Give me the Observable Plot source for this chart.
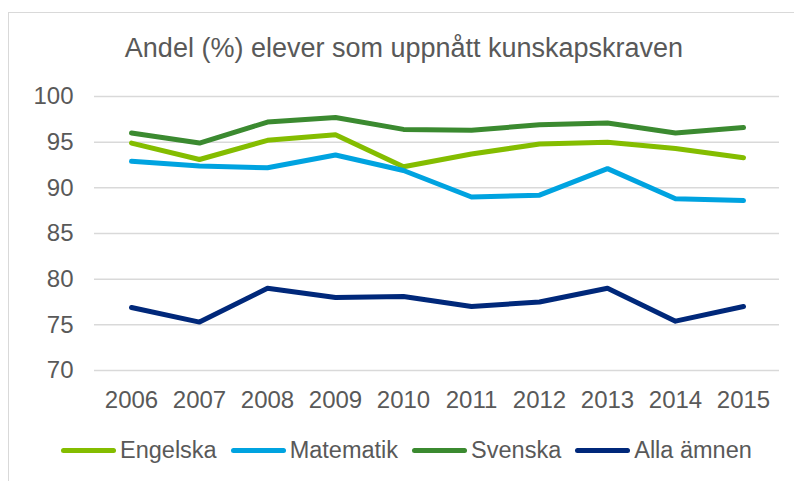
<!DOCTYPE html>
<html>
<head>
<meta charset="utf-8">
<script src="https://cdn.jsdelivr.net/npm/d3@7"></script>
<script src="https://cdn.jsdelivr.net/npm/@observablehq/plot@0.6"></script>
<style>
  html, body { margin: 0; padding: 0; background: #fff; }
  body { width: 794px; height: 481px; overflow: hidden; position: relative; font-family: "Liberation Sans", Arial, sans-serif; color: #595959; }
  #frame { position: absolute; left: 8px; top: 12px; width: 820px; height: 500px; border: 1px solid #d9d9d9; box-sizing: border-box; }
  #title { position: absolute; left: 0; width: 808px; top: 35px; text-align: center; font-size: 27px; line-height: 26px; white-space: nowrap; }
  #chart { position: absolute; left: 0; top: 0; }
  #legend { position: absolute; left: 61px; top: 435px; height: 30px; display: flex; align-items: center; font-size: 23.5px; line-height: 30px; white-space: nowrap; }
  .item { display: flex; align-items: center; margin-right: 14px; }
  .swatch { width: 55px; height: 5px; border-radius: 3px; margin-right: 4px; }
</style>
</head>
<body>
<div id="frame"></div>
<div id="chart"></div>
<div id="title">Andel (%) elever som uppnått kunskapskraven</div>
<div id="legend"></div>
<script>
const years = ["2006","2007","2008","2009","2010","2011","2012","2013","2014","2015"];
const seriesNames = ["Engelska", "Matematik", "Svenska", "Alla ämnen"];
const engelska  = [94.9, 93.1, 95.2, 95.8, 92.3, 93.7, 94.8, 95.0, 94.3, 93.3];
const matematik = [92.9, 92.4, 92.2, 93.6, 91.9, 89.0, 89.2, 92.1, 88.8, 88.6];
const svenska   = [96.0, 94.9, 97.2, 97.7, 96.4, 96.3, 96.9, 97.1, 96.0, 96.6];
const alla      = [76.9, 75.3, 79.0, 78.0, 78.1, 77.0, 77.5, 79.0, 75.4, 77.0];
const yTicks = [70, 75, 80, 85, 90, 95, 100];
const colors = ["#84bd00", "#00a3e0", "#3b8a30", "#00287a"];

const valueLists = [engelska, matematik, svenska, alla];
const data = [];
seriesNames.forEach((s, i) => {
  years.forEach((yr, j) => data.push({ series: s, year: yr, value: valueLists[i][j] }));
});

const plot = Plot.plot({
  width: 794,
  height: 420,
  marginTop: 96,
  marginBottom: 50,
  marginLeft: 94,
  marginRight: 15,
  style: { fontFamily: "Liberation Sans, Arial, sans-serif", color: "#595959", background: "transparent", overflow: "visible" },
  x: { type: "point", domain: years, padding: 0.5, label: null },
  y: { domain: [70, 100], label: null },
  color: { domain: seriesNames, range: colors },
  marks: [
    Plot.ruleY(yTicks, { stroke: "#d9d9d9", strokeWidth: 1.5 }),
    Plot.axisY(yTicks, { tickSize: 0, tickPadding: 21, fontSize: 24, label: null, fill: "#595959" }),
    Plot.axisX(years, { tickSize: 0, tickPadding: 20, fontSize: 24, label: null, fill: "#595959" }),
    Plot.line(data, { x: "year", y: "value", z: "series", stroke: "series", strokeWidth: 5, strokeLinecap: "round", strokeLinejoin: "round" })
  ]
});
document.getElementById("chart").appendChild(plot);

const legend = document.getElementById("legend");
seriesNames.forEach((s, i) => {
  const item = document.createElement("div");
  item.className = "item";
  const sw = document.createElement("div");
  sw.className = "swatch";
  sw.style.background = colors[i];
  const t = document.createElement("span");
  t.textContent = s;
  item.appendChild(sw);
  item.appendChild(t);
  legend.appendChild(item);
});
</script>
</body>
</html>
